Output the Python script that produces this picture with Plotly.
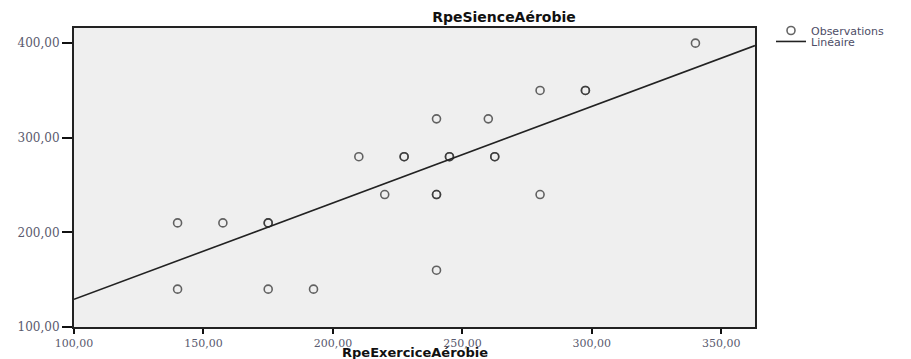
import plotly.graph_objects as go

# Observations (darker circles in the reference = repeated observations)
rpe_exercice = [140, 157.5, 175, 175, 140, 175, 192.5, 220, 240, 240, 280, 240,
                280, 297.5, 297.5, 240, 260, 210, 227.5, 227.5, 245, 245,
                262.5, 262.5, 340]
rpe_sience = [210, 210, 210, 210, 140, 140, 140, 240, 240, 240, 240, 160,
              350, 350, 350, 320, 320, 280, 280, 280, 280, 280, 280, 280, 400]

# Linear fit
fit_intercept = 27.2
fit_slope = 1.02

x_range = [100, 363]
y_range = [100, 416]
x_ticks = [100, 150, 200, 250, 300, 350]
y_ticks = [100, 200, 300, 400]

def fmt(v):
    return f"{v:.2f}".replace(".", ",")

fit_x = list(x_range)
fit_y = [fit_intercept + fit_slope * v for v in fit_x]

x_tick_font = dict(family="DejaVu Serif", size=11, color="#5a5a6e")
y_tick_font = dict(family="DejaVu Serif", size=12, color="#5a5a6e")

# page body has an 8px default margin: figure is sized/offset to compensate
OFF = 8
W, H = 911 - OFF, 359 - OFF
PLOT_L, PLOT_R, PLOT_T, PLOT_B = 74, 755, 27.5, 327.5
L, R = PLOT_L - OFF, 911 - PLOT_R
T, B = PLOT_T - OFF, 359 - PLOT_B
PW = PLOT_R - PLOT_L
PH = PLOT_B - PLOT_T

fig = go.Figure()
fig.add_trace(go.Scatter(
    x=rpe_exercice, y=rpe_sience, mode="markers", name="Observations",
    marker=dict(symbol="circle-open", size=8, color="rgba(50,50,50,0.75)",
                line=dict(width=1.6)),
    legend="legend", showlegend=True,
))
fig.add_trace(go.Scatter(
    x=fit_x, y=fit_y, mode="lines", name="Linéaire",
    line=dict(color="#222222", width=1.6),
    legend="legend2", showlegend=True,
))

legend_font = dict(family="DejaVu Sans", size=11, color="#4d4d66")

fig.update_layout(
    width=W, height=H, showlegend=True,
    margin=dict(l=L, r=R, t=T, b=B, autoexpand=False),
    paper_bgcolor="white", plot_bgcolor="#efefef",
    font=dict(family="DejaVu Sans", size=11, color="#333"),
    title=dict(text="<b>RpeSienceAérobie</b>", x=(504 - PLOT_L) / PW, xref="paper",
               xanchor="center", y=1 - (17 - OFF) / H, yanchor="middle",
               font=dict(family="DejaVu Sans", size=14, color="#111")),
    xaxis=dict(range=x_range, tickvals=x_ticks, ticktext=[fmt(v) for v in x_ticks],
               showgrid=False, zeroline=False, ticks="outside", ticklen=5,
               tickwidth=2, tickcolor="#111", showline=True, linecolor="#222",
               linewidth=2, mirror=True, tickfont=x_tick_font, automargin=False),
    yaxis=dict(range=y_range, tickvals=y_ticks, ticktext=[fmt(v) for v in y_ticks],
               showgrid=False, zeroline=False, ticks="outside", ticklen=10,
               tickwidth=2, tickcolor="#111", showline=True, linecolor="#222",
               linewidth=2, mirror=True, tickfont=y_tick_font, automargin=False),
    legend=dict(x=(771 - PLOT_L) / PW, y=(PLOT_B - 30) / PH, xanchor="left",
                yanchor="middle", bgcolor="rgba(0,0,0,0)", font=legend_font),
    legend2=dict(x=(771 - PLOT_L) / PW, y=(PLOT_B - 41) / PH, xanchor="left",
                 yanchor="middle", bgcolor="rgba(0,0,0,0)", font=legend_font),
    annotations=[dict(text="<b>RpeExerciceAérobie</b>", x=0.5,
                      y=(PLOT_B - 353.5) / PH,
                      xref="paper", yref="paper", xanchor="center", yanchor="middle",
                      showarrow=False,
                      font=dict(family="DejaVu Sans", size=13, color="#111"))],
)

fig.write_html("out.html")
